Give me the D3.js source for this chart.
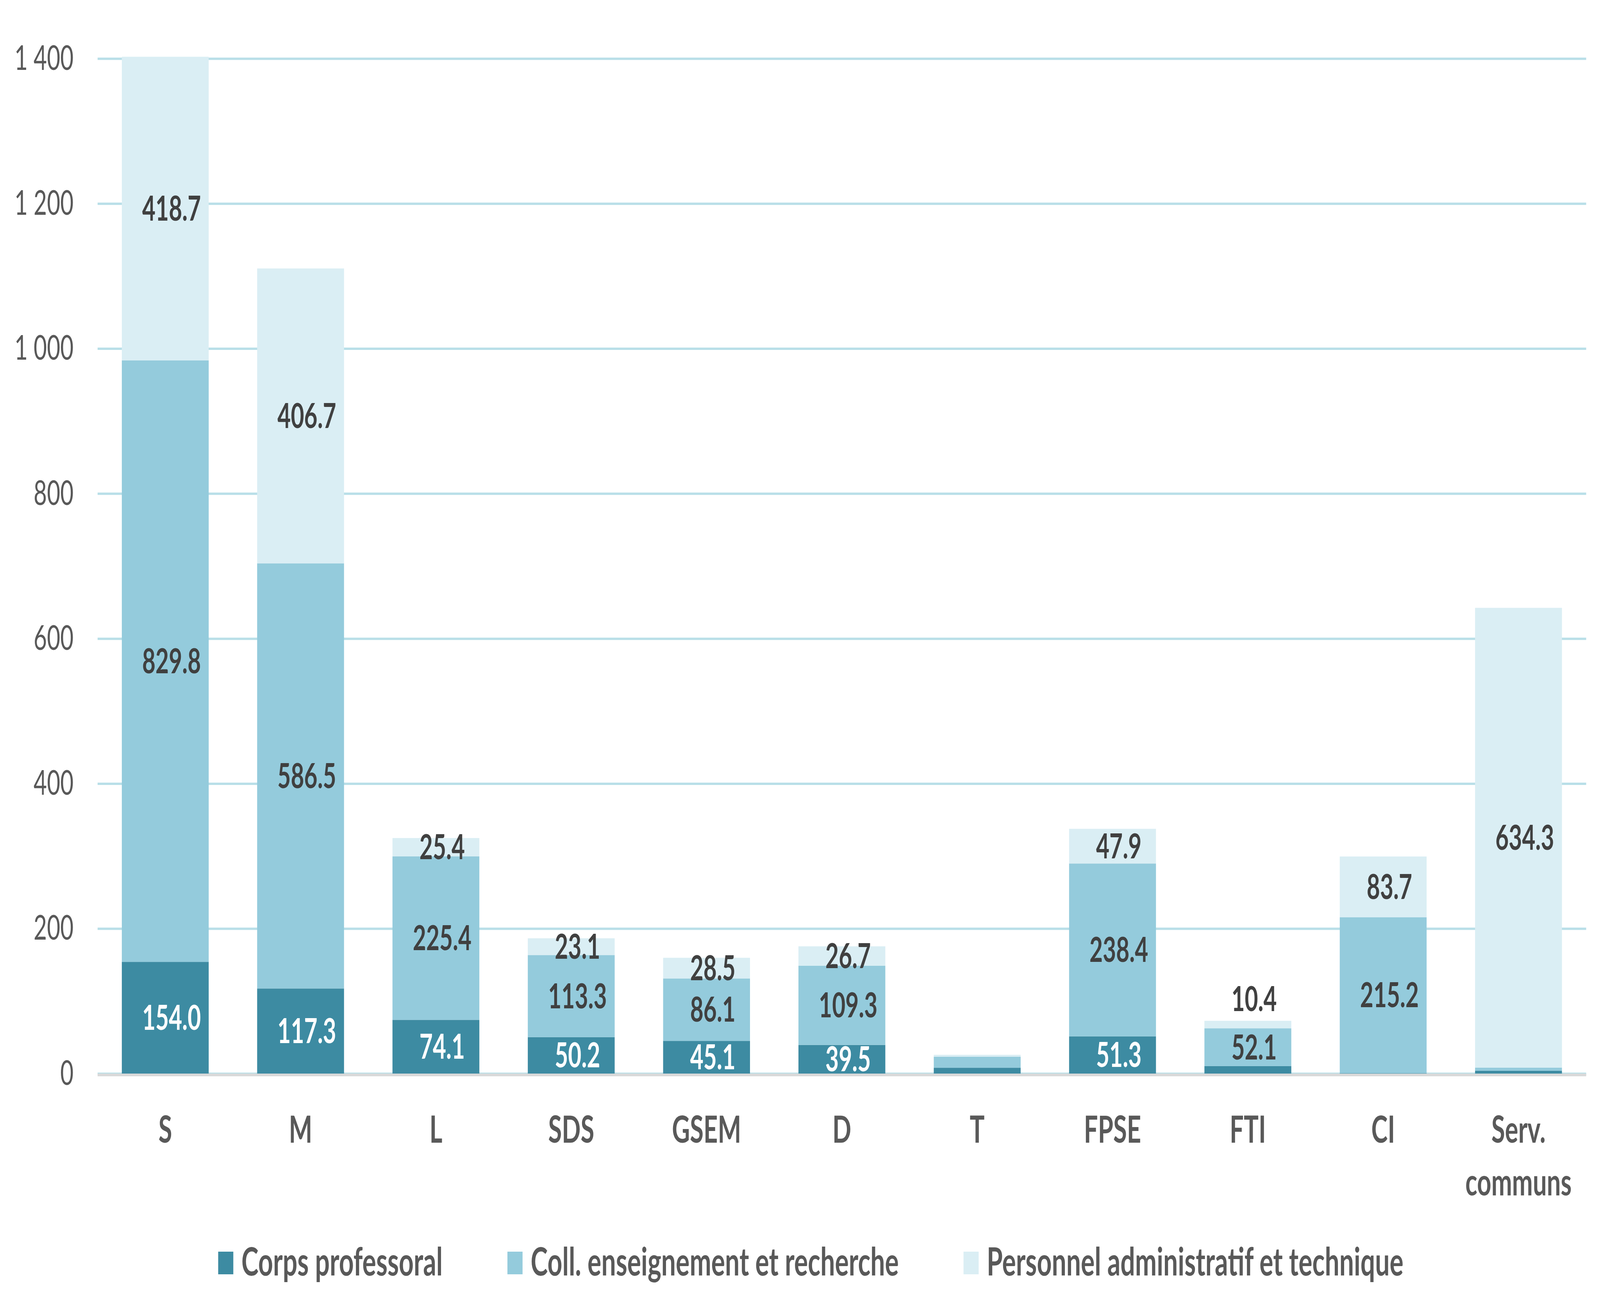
<!DOCTYPE html>
<html>
<head>
<meta charset="utf-8">
<script src="https://cdn.jsdelivr.net/npm/d3@7"></script>
<style>
html, body { margin: 0; padding: 0; background: #fff; overflow: hidden; }
svg { display: block; width: 100vw; height: 100vh; font-family: Lato, "Open Sans", sans-serif; }
</style>
</head>
<body>
<script>
// data
var categories = ["S", "M", "L", "SDS", "GSEM", "D", "T", "FPSE", "FTI", "CI", "Serv. communs"];
var corpsProfessoral = [154.0, 117.3, 74.1, 50.2, 45.1, 39.5, 8.0, 51.3, 10.3, 0.5, 3.8];
var collEnseignement = [829.8, 586.5, 225.4, 113.3, 86.1, 109.3, 15.2, 238.4, 52.1, 215.2, 4.3];
var personnelAdmin = [418.7, 406.7, 25.4, 23.1, 28.5, 26.7, 2.7, 47.9, 10.4, 83.7, 634.3];
// which value labels are printed in the original
var showCorps = [1, 1, 1, 1, 1, 1, 0, 1, 0, 0, 0];
var showColl = [1, 1, 1, 1, 1, 1, 0, 1, 1, 1, 0];
var showAdmin = [1, 1, 1, 1, 1, 1, 0, 1, 1, 1, 1];
var seriesNames = ["Corps professoral", "Coll. enseignement et recherche", "Personnel administratif et technique"];
var yTicks = [0, 200, 400, 600, 800, 1000, 1200, 1400];

var colors = ["#3d8ba2", "#94cbdc", "#daeef4"];
var labelColors = ["#ffffff", "#404040", "#404040"];

main = function(){
	var W = 6131, H = 3316;
	var left = 374, right = 6078, y0 = 2749, yTop = 150;

	var svg = d3.select("body").append("svg")
		.attr("viewBox", "0 0 " + W + " " + H)
		.attr("preserveAspectRatio", "none");
	svg.append("rect").attr("width", W).attr("height", H).attr("fill", "#fff");

	var table = categories.map(function(c, i){
		return {cat: c, a: corpsProfessoral[i], b: collEnseignement[i], c: personnelAdmin[i],
			show: [showCorps[i], showColl[i], showAdmin[i]]};
	});
	var keys = ["a", "b", "c"];
	var stacked = d3.stack().keys(keys)(table);

	var x = d3.scaleBand().domain(categories).range([left, right]).paddingInner(0.358).paddingOuter(0.179);
	var y = d3.scaleLinear().domain([0, 1400]).range([y0, yTop]);

	var loc = d3.formatLocale({decimal: ".", thousands: " ", grouping: [3], currency: ["", ""]});
	var fmtTick = loc.format(",d");
	var fmtVal = loc.format(".1f");

	// gridlines + y labels
	var yAxis = svg.append("g").attr("transform", "translate(" + left + ",0)")
		.call(d3.axisLeft(y).tickValues(yTicks).tickFormat(fmtTick).tickSize(-(right - left)).tickPadding(92));
	yAxis.select(".domain").remove();
	yAxis.selectAll("line").attr("stroke", "#b9dfe8").attr("stroke-width", 6);
	yAxis.selectAll("text").attr("fill", "#595959").style("font-size", "88px").style("font-family", "Lato, 'Open Sans', sans-serif");

	// bars
	var groups = svg.selectAll("g.serie").data(stacked).enter().append("g")
		.attr("class", "serie").attr("fill", function(d, i){ return colors[i]; });
	groups.selectAll("rect").data(function(d){ return d; }).enter().append("rect")
		.attr("x", function(d){ return x(d.data.cat); })
		.attr("width", x.bandwidth())
		.attr("y", function(d){ return y(d[1]); })
		.attr("height", function(d){ return y(d[0]) - y(d[1]); });

	// base line
	svg.append("line").attr("x1", left).attr("x2", right).attr("y1", y0 + 3.5).attr("y2", y0 + 3.5)
		.attr("stroke", "#d9d9d9").attr("stroke-width", 7);

	// value labels
	stacked.forEach(function(s, si){
		s.forEach(function(d, ci){
			if (!d.data.show[si]) return;
			var h = y(d[0]) - y(d[1]);
			var cy = (y(d[0]) + y(d[1])) / 2;
			if (h < 30) cy = y(d[1]) - 56;
			svg.append("text")
				.attr("x", x(d.data.cat) + x.bandwidth() / 2 + 24)
				.attr("y", cy + 31)
				.attr("text-anchor", "middle")
				.attr("fill", labelColors[si])
				.style("font-size", "88px").style("font-weight", "bold")
				.text(fmtVal(d.data[keys[si]]));
		});
	});

	// category labels
	var xAxis = svg.append("g");
	categories.forEach(function(c){
		var t = xAxis.append("text")
			.attr("x", x(c) + x.bandwidth() / 2)
			.attr("y", 2926)
			.attr("text-anchor", "middle")
			.attr("fill", "#595959")
			.style("font-size", "95px").style("font-weight", "bold");
		var words = c.split(" ");
		words.forEach(function(w, i){
			t.append("tspan").attr("x", x(c) + x.bandwidth() / 2).attr("dy", i == 0 ? 0 : 135).text(w);
		});
	});

	// legend
	var leg = svg.append("g");
	var items = [];
	seriesNames.forEach(function(n, i){
		var g = leg.append("g");
		g.append("rect").attr("x", 0).attr("y", 3205).attr("width", 58).attr("height", 58).attr("fill", colors[i]);
		var t = g.append("text").attr("x", 89).attr("y", 3266).attr("fill", "#595959")
			.style("font-size", "99px").style("font-weight", "bold").text(n);
		items.push({g: g, w: 89 + t.node().getComputedTextLength()});
	});
	var gap = 248;
	var total = d3.sum(items, function(d){ return d.w; }) + gap * (items.length - 1);
	var pos = 3107 - total / 2;
	items.forEach(function(it){
		it.g.attr("transform", "translate(" + pos + ",0)");
		pos += it.w + gap;
	});
};

main();
</script>
</body>
</html>
